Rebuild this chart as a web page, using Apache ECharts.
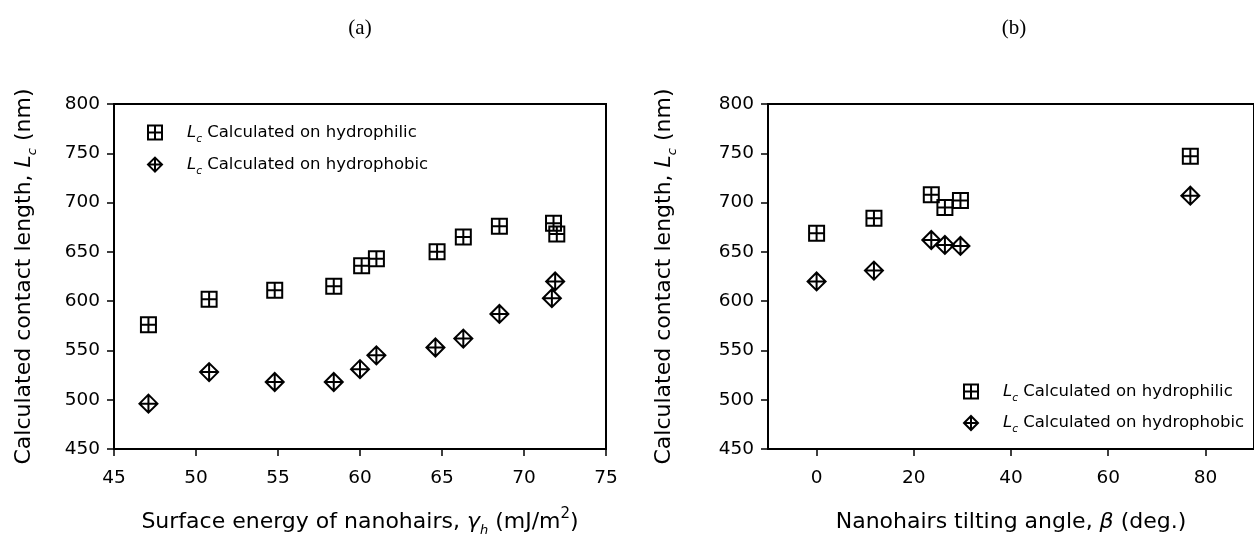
<!DOCTYPE html>
<html>
<head>
<meta charset="utf-8">
<script src="https://cdn.jsdelivr.net/npm/echarts@6/dist/echarts.min.js"></script>
<style>
html, body { margin: 0; padding: 0; background: #fff; }
#main { width: 1254px; height: 548px; }
</style>
</head>
<body>
<div id="main"></div>
<script>
// (a) contact length vs surface energy
var energyPhilic = [47.1, 50.8, 54.8, 58.4, 60.1, 61.0, 64.7, 66.3, 68.5, 71.8, 72.0];
var philicA      = [576, 602, 611, 615, 636, 643, 650, 665, 676, 679, 668];
var energyPhobic = [47.1, 50.8, 54.8, 58.4, 60.0, 61.0, 64.6, 66.3, 68.5, 71.7, 71.9];
var phobicA      = [496, 528, 518, 518, 531, 545, 553, 562, 587, 603, 620];
// (b) contact length vs tilting angle
var angle   = [0, 11.8, 23.6, 26.4, 29.6, 76.9];
var philicB = [669, 684, 708, 695, 702, 747];
var phobicB = [620, 631, 662, 657, 656, 707];
var angleTicks = [0, 20, 40, 60, 80];

var FONT = 'DejaVu Sans';
var squareCross  = 'path://M0,0H10V10H0ZM5,0V10M0,5H10';
var diamondCross = 'path://M5,0L10,5L5,10L0,5ZM5,0V10M0,5H10';

function pairs(xs, ys) {
    return xs.map(function (x, i) { return [x, ys[i]]; });
}

var chart = echarts.init(document.getElementById('main'));

var subRich = {
    n:  { fontFamily: FONT, fontSize: 22, lineHeight: 30, color: '#000' },
    it: { fontFamily: FONT, fontSize: 22, lineHeight: 30, fontStyle: 'italic', color: '#000' },
    sb: { fontFamily: FONT, fontSize: 13, fontStyle: 'italic', verticalAlign: 'bottom', lineHeight: 15, color: '#000' },
    sp: { fontFamily: FONT, fontSize: 15, verticalAlign: 'top', lineHeight: 15, color: '#000' }
};

var legendRich = {
    it: { fontFamily: FONT, fontSize: 16.5, lineHeight: 24, fontStyle: 'italic', color: '#000', padding: [0, 0, 0, 20] },
    sb: { fontFamily: FONT, fontSize: 10.5, fontStyle: 'italic', verticalAlign: 'bottom', lineHeight: 12, color: '#000' },
    t:  { fontFamily: FONT, fontSize: 16.5, lineHeight: 24, color: '#000' }
};

function legendFmt(name) {
    return '{it|L}{sb|c}{t| Calculated on ' + name + '}';
}

var yName = '{n|Calculated contact length, }{it|L}{sb|c}{n| (nm)}';

function valueAxisY(gridIndex, gap) {
    return {
        type: 'value', gridIndex: gridIndex, min: 450, max: 800, interval: 50,
        name: yName, nameLocation: 'middle', nameGap: gap,
        nameTextStyle: { rich: subRich },
        axisLine: { show: true, onZero: false, lineStyle: { color: '#000', width: 2 } },
        axisTick: { show: true, inside: false, length: 7, lineStyle: { color: '#000', width: 1.5 } },
        axisLabel: { color: '#000', fontFamily: FONT, fontSize: 18.5, margin: 14 },
        splitLine: { show: false }
    };
}

var markStyle = { color: 'rgba(0,0,0,0)', borderColor: '#000', borderWidth: 2, opacity: 1 };

chart.setOption({
    backgroundColor: '#fff',
    animation: false,
    title: [
        { text: '(a)', left: 360, top: 18, textAlign: 'center', padding: 0,
          textStyle: { fontFamily: 'Liberation Serif', fontSize: 21, fontWeight: 'normal', color: '#000' } },
        { text: '(b)', left: 1014, top: 18, textAlign: 'center', padding: 0,
          textStyle: { fontFamily: 'Liberation Serif', fontSize: 21, fontWeight: 'normal', color: '#000' } }
    ],
    grid: [
        { left: 114, top: 104, width: 492, height: 345, show: true, borderColor: '#000', borderWidth: 2 },
        { left: 768, top: 104, width: 493, height: 345, show: true, borderColor: '#000', borderWidth: 2 }
    ],
    legend: [
        { orient: 'vertical', left: 142, top: 119, itemWidth: 14, itemHeight: 14, itemGap: 11.6,
          data: ['hydrophilic', 'hydrophobic'], formatter: legendFmt,
          textStyle: { rich: legendRich }, itemStyle: { borderWidth: 2, opacity: 1 } },
        { orient: 'vertical', left: 958, top: 378, itemWidth: 14, itemHeight: 14, itemGap: 11,
          data: ['hydrophilic', 'hydrophobic'], formatter: legendFmt,
          textStyle: { rich: legendRich }, itemStyle: { borderWidth: 2, opacity: 1 } }
    ],
    xAxis: [
        {
            type: 'value', gridIndex: 0, min: 45, max: 75, interval: 5,
            name: '{n|Surface energy of nanohairs, }{it|γ}{sb|h}{n| (mJ/m}{sp|2}{n|)}',
            nameLocation: 'middle', nameGap: 58,
            nameTextStyle: { rich: subRich },
            axisLine: { show: true, onZero: false, lineStyle: { color: '#000', width: 2 } },
            axisTick: { show: true, inside: false, length: 7, lineStyle: { color: '#000', width: 1.5 } },
            axisLabel: { color: '#000', fontFamily: FONT, fontSize: 18.5, margin: 20 },
            splitLine: { show: false }
        },
        {
            type: 'value', gridIndex: 1, min: -10, max: 90,
            name: '{n|Nanohairs tilting angle, }{it|β}{n| (deg.)}',
            nameLocation: 'middle', nameGap: 58,
            nameTextStyle: { rich: subRich },
            axisLine: { show: true, onZero: false, lineStyle: { color: '#000', width: 2 } },
            axisTick: { show: true, inside: false, length: 7, customValues: angleTicks, lineStyle: { color: '#000', width: 1.5 } },
            axisLabel: { color: '#000', fontFamily: FONT, fontSize: 18.5, margin: 20, customValues: angleTicks },
            splitLine: { show: false }
        }
    ],
    yAxis: [valueAxisY(0, 75), valueAxisY(1, 89)],
    series: [
        { name: 'hydrophilic', type: 'scatter', xAxisIndex: 0, yAxisIndex: 0,
          symbol: squareCross, symbolSize: 15, itemStyle: markStyle, data: pairs(energyPhilic, philicA) },
        { name: 'hydrophobic', type: 'scatter', xAxisIndex: 0, yAxisIndex: 0,
          symbol: diamondCross, symbolSize: 18, itemStyle: markStyle, data: pairs(energyPhobic, phobicA) },
        { name: 'hydrophilic', type: 'scatter', xAxisIndex: 1, yAxisIndex: 1,
          symbol: squareCross, symbolSize: 15, itemStyle: markStyle, data: pairs(angle, philicB) },
        { name: 'hydrophobic', type: 'scatter', xAxisIndex: 1, yAxisIndex: 1,
          symbol: diamondCross, symbolSize: 18, itemStyle: markStyle, data: pairs(angle, phobicB) }
    ]
});
</script>
</body>
</html>
